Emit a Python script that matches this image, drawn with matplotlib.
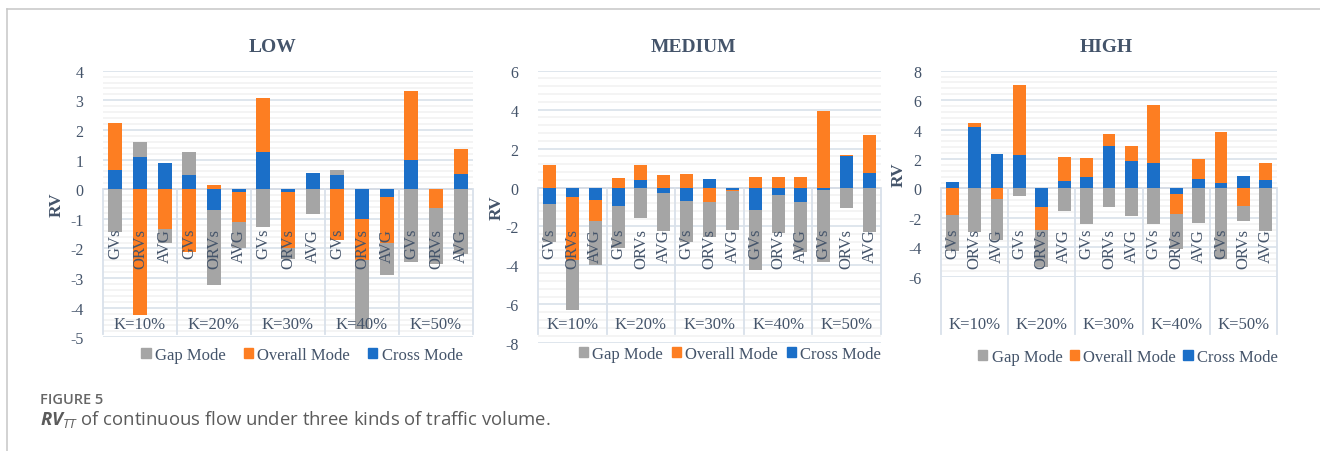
import matplotlib
matplotlib.use('Agg')
import matplotlib.pyplot as plt
from matplotlib.patches import Patch
from matplotlib.lines import Line2D
from matplotlib.ticker import MultipleLocator
import numpy as np

SERIF = 'Liberation Serif'
plt.rcParams['font.family'] = [SERIF, 'DejaVu Serif']
plt.rcParams['axes.unicode_minus'] = False
plt.rcParams['mathtext.fontset'] = 'custom'
plt.rcParams['mathtext.rm'] = 'Open Sans'
plt.rcParams['mathtext.it'] = 'Open Sans:italic'
plt.rcParams['mathtext.bf'] = 'Open Sans:bold'
plt.rcParams['mathtext.bfit'] = 'Open Sans:italic:bold'

# ---------------- data ----------------
groups = ["K=10%", "K=20%", "K=30%", "K=40%", "K=50%"]
subcats = ["GVs", "ORVs", "AVG"]
series_names = ["Gap Mode", "Overall Mode", "Cross Mode"]

ticks_low = [4, 3, 2, 1, 0, -1, -2, -3, -4, -5]
ticks_med = [6, 4, 2, 0, -2, -4, -6, -8]
ticks_high = [8, 6, 4, 2, 0, -2, -4, -6]

gap_low = [-1.46, 0.51, -0.49, 0.78, -2.53, -0.88, -1.29, -0.39, -0.84, 0.17, -2.32, -1.07, -2.47, -1.88, -2.19]
overall_low = [1.59, -4.24, -1.33, -2.11, 0.13, -1.03, 1.83, -1.86, 0.0, -1.71, -1.39, -1.57, 2.32, -0.65, 0.83]
cross_low = [0.65, 1.09, 0.88, 0.48, -0.71, -0.09, 1.24, -0.11, 0.56, 0.47, -1.01, -0.26, 1.00, 0.0, 0.52]

gap_med = [-1.93, -2.57, -2.24, -2.16, -1.58, -1.94, -2.11, -1.80, -2.00, -3.07, -1.98, -2.54, -3.70, -1.07, -2.30]
overall_med = [1.16, -3.25, -1.10, 0.47, 0.77, 0.64, 0.68, -0.76, -0.07, 0.54, 0.54, 0.54, 3.95, 0.06, 1.97]
cross_med = [-0.85, -0.47, -0.64, -0.96, 0.39, -0.28, -0.71, 0.44, -0.11, -1.15, -0.37, -0.76, -0.11, 1.60, 0.75]

gap_high = [-2.45, -2.99, -2.74, -0.54, -2.49, -1.52, -2.42, -1.29, -1.86, -2.42, -2.35, -2.36, -4.80, -1.02, -2.88]
overall_high = [-1.79, 0.27, -0.75, 4.73, -1.56, 1.61, 1.29, 0.79, 1.06, 3.99, -1.38, 1.34, 3.47, -1.18, 1.13]
cross_high = [0.43, 4.19, 2.31, 2.29, -1.27, 0.50, 0.79, 2.90, 1.84, 1.70, -0.39, 0.63, 0.34, 0.82, 0.59]

# ---------------- style ----------------
W, H = 1320, 452
TXT = '#44546a'
C_GAP, C_OVR, C_CRS = '#a5a5a5', '#fd7e22', '#1b6fc8'
colors = {"Gap Mode": C_GAP, "Overall Mode": C_OVR, "Cross Mode": C_CRS}

fig = plt.figure(figsize=(W / 100, H / 100), dpi=100)

panels = [
    dict(title="LOW", gap=gap_low, ovr=overall_low, crs=cross_low, ticks=ticks_low,
         box=(103, 71.7, 473, 338.3), minor=0.2,
         title_x=273, ylab_x=65, leg_cx=302, leg_cy=356, colsp=1.1),
    dict(title="MEDIUM", gap=gap_med, ovr=overall_med, crs=cross_med, ticks=ticks_med,
         box=(538, 71.7, 881, 344.3), minor=0.4,
         title_x=693, ylab_x=505, leg_cx=730, leg_cy=355, colsp=0.55),
    dict(title="HIGH", gap=gap_high, ovr=overall_high, crs=cross_high, ticks=ticks_high,
         box=(941, 71.7, 1277, 277.7), minor=0.4,
         title_x=1106, ylab_x=907, leg_cx=1128, leg_cy=358, colsp=0.45),
]

SUB_TOP = 229      # pixel y of top of rotated sub-category labels
K_Y = 325          # pixel y of group labels
SEP_BOTTOM = 335   # pixel y of bottom of separators

n = len(groups) * len(subcats)
x = np.arange(n)

for p in panels:
    x0, y0, x1, y1 = p['box']
    ax = fig.add_axes([x0 / W, 1 - y1 / H, (x1 - x0) / W, (y1 - y0) / H])
    ymin, ymax = min(p['ticks']), max(p['ticks'])
    ax.set_xlim(-0.5, n - 0.5)
    ax.set_ylim(ymin, ymax)
    for s in ax.spines.values():
        s.set_visible(False)
    ax.set_yticks(p['ticks'])
    ax.set_yticklabels([str(t) for t in p['ticks']], fontfamily=SERIF, fontsize=11.5, color=TXT)
    ax.yaxis.set_minor_locator(MultipleLocator(p['minor']))
    ax.grid(which='minor', axis='y', color='#f1f1f1', lw=1.1, zorder=0)
    ax.grid(which='major', axis='y', color='#d9e1ea', lw=1.2, zorder=0)
    ax.set_axisbelow(True)
    ax.tick_params(axis='y', which='both', length=0, pad=14)
    ax.set_xticks([])
    ax.axhline(0, color='#d6dce5', lw=1.2, zorder=1)

    # stacked bars: Cross, Overall, Gap order from zero outward
    pos = np.zeros(n)
    neg = np.zeros(n)
    for name, vals in (("Cross Mode", p['crs']), ("Overall Mode", p['ovr']), ("Gap Mode", p['gap'])):
        v = np.array(vals, dtype=float)
        bottoms = np.where(v >= 0, pos, neg)
        ax.bar(x, v, bottom=bottoms, width=0.57, color=colors[name], zorder=2, linewidth=0)
        pos = pos + np.where(v > 0, v, 0)
        neg = neg + np.where(v < 0, v, 0)

    ax.set_ylabel("RV", fontfamily=SERIF, fontweight='bold', fontsize=12.5, color=TXT)
    ax.yaxis.set_label_coords((p['ylab_x'] - x0) / (x1 - x0), 0.5)

    fig.text(p['title_x'] / W, 1 - 48 / H, p['title'], fontfamily=SERIF, fontweight='bold',
             fontsize=14, color=TXT, ha='center', va='center')

    # category axis decorations
    wpx = x1 - x0
    zero_px = y0 + (ymax - 0) / (ymax - ymin) * (y1 - y0)
    for j in range(len(groups) + 1):
        xs = x0 + j * wpx / len(groups)
        fig.add_artist(Line2D([xs / W, xs / W], [1 - zero_px / H, 1 - SEP_BOTTOM / H],
                              color='#d9e1ea', lw=1.3, zorder=1))
    for i in range(n):
        xc = x0 + (i + 0.5) * wpx / n
        fig.text(xc / W, 1 - SUB_TOP / H, subcats[i % 3], rotation=90, ha='center', va='top',
                 fontfamily=SERIF, fontsize=12, color=TXT, zorder=5)
    for g, lab in enumerate(groups):
        xc = x0 + (g + 0.5) * wpx / len(groups)
        fig.text(xc / W, 1 - K_Y / H, lab, ha='center', va='center',
                 fontfamily=SERIF, fontsize=12, color=TXT)

    handles = [Patch(color=colors[s]) for s in series_names]
    fig.legend(handles, series_names, loc='center', bbox_to_anchor=(p['leg_cx'] / W, 1 - p['leg_cy'] / H),
               ncol=3, frameon=False, prop={'family': SERIF, 'size': 12},
               handlelength=0.55, handleheight=0.55, handletextpad=0.25,
               columnspacing=p['colsp'], labelcolor=TXT, borderaxespad=0, borderpad=0)

# frame lines
fig.add_artist(Line2D([7 / W, 1], [1 - 10 / H, 1 - 10 / H], color='#c6c6c6', lw=1.1))
fig.add_artist(Line2D([7 / W, 7 / W], [1 - 10 / H, 0], color='#c6c6c6', lw=1.1))

# caption
fig.text(40 / W, 1 - 400 / H, 'FIGURE 5', fontfamily='Open Sans', fontweight='semibold',
         fontsize=10.5, color='#666666', va='center')
fig.text(40 / W, 1 - 419 / H,
         r'$\mathbfit{RV}_{\mathit{TT}}$ of continuous flow under three kinds of traffic volume.',
         fontfamily='Open Sans', fontsize=13.3, color='#5b5b5b', va='center')

fig.savefig('out.png', dpi=100)
